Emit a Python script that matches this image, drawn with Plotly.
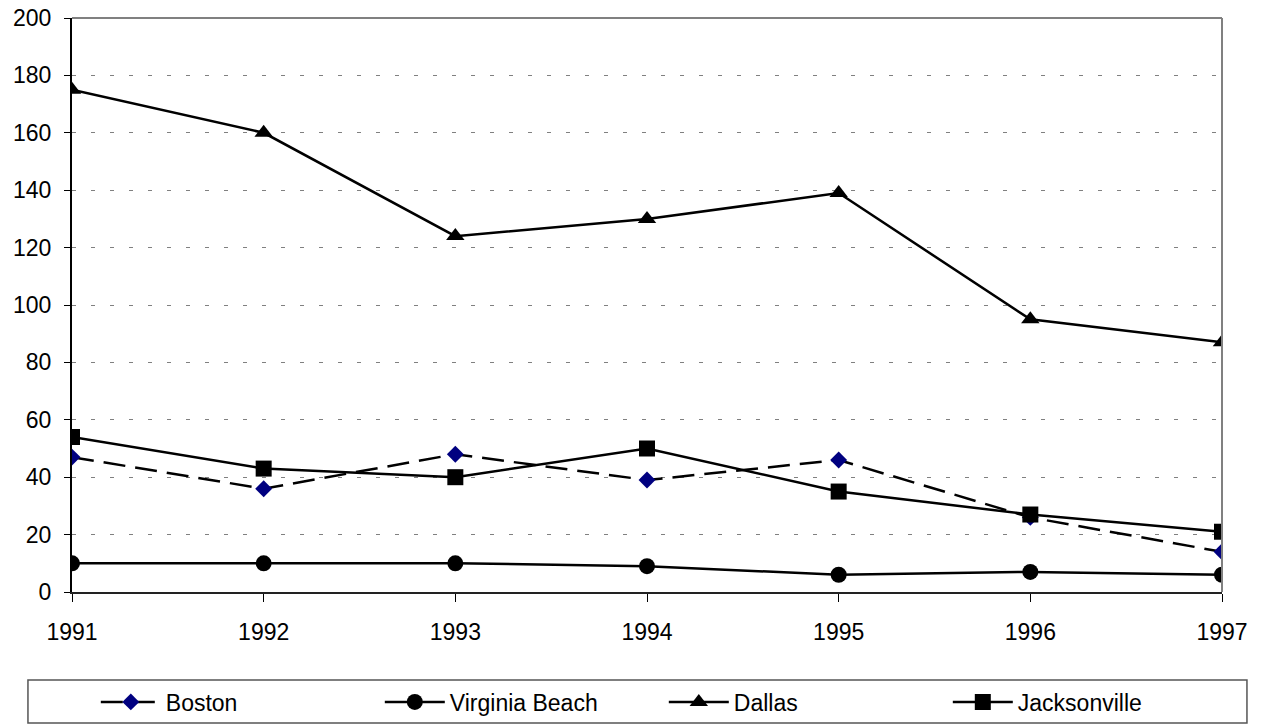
import plotly.graph_objects as go

years = [1991, 1992, 1993, 1994, 1995, 1996, 1997]
boston = [47, 36, 48, 39, 46, 26, 14]
virginia_beach = [10, 10, 10, 9, 6, 7, 6]
dallas = [175, 160, 124, 130, 139, 95, 87]
jacksonville = [54, 43, 40, 50, 35, 27, 21]
y_ticks = list(range(0, 201, 20))

fig = go.Figure()
fig.add_trace(go.Scatter(x=years, y=boston, name="Boston", mode="lines+markers",
                         line=dict(color="black", width=2.5, dash="22px,10px"),
                         marker=dict(symbol="diamond", color="#000080", size=13)))
fig.add_trace(go.Scatter(x=years, y=virginia_beach, name="Virginia Beach", mode="lines+markers",
                         line=dict(color="black", width=2.5),
                         marker=dict(symbol="circle", color="black", size=16)))
fig.add_trace(go.Scatter(x=years, y=dallas, name="Dallas", mode="lines+markers",
                         line=dict(color="black", width=2.5),
                         marker=dict(symbol="triangle-up", color="black", size=16)))
fig.add_trace(go.Scatter(x=years, y=jacksonville, name="Jacksonville", mode="lines+markers",
                         line=dict(color="black", width=2.5),
                         marker=dict(symbol="square", color="black", size=16)))

fig.update_layout(
    width=1267, height=726,
    margin=dict(l=72, r=45, t=18, b=134, autoexpand=False),
    paper_bgcolor="white", plot_bgcolor="white",
    font=dict(family="Liberation Sans, Arial, sans-serif", size=23, color="black"),
    xaxis=dict(range=[1991, 1997], tickvals=years, ticktext=[str(y) for y in years],
               showgrid=False, zeroline=False, showline=True, linecolor="#222222", linewidth=2,
               ticks="outside", ticklen=8, tickwidth=1, tickcolor="black",
               ticklabelstandoff=10, automargin=False, ticklabeloverflow="allow"),
    yaxis=dict(range=[0, 200], tickvals=y_ticks, showgrid=True, gridcolor="#808080",
               griddash="4px,15px", gridwidth=1, zeroline=False, showline=True, linecolor="black",
               linewidth=2, ticks="outside", ticklen=6, tickwidth=1, tickcolor="black",
               ticklabelstandoff=8, automargin=False, ticklabeloverflow="allow"),
    showlegend=True,
    legend=dict(orientation="h", x=0.0207, xanchor="left", y=0.0331, yanchor="middle",
                yref="container",
                borderwidth=0, bgcolor="rgba(0,0,0,0)",
                entrywidth=209, font=dict(size=23), itemwidth=60, traceorder="normal"),
)
fig.add_shape(type="line", xref="paper", yref="paper", x0=0, x1=1, y0=1, y1=1,
              line=dict(color="#808080", width=2))
fig.add_shape(type="line", xref="paper", yref="paper", x0=1, x1=1, y0=0, y1=1,
              line=dict(color="#808080", width=2))
fig.add_shape(type="rect", xref="paper", yref="paper", x0=-0.0383, x1=1.0217,
              y0=-0.1533, y1=-0.2282, line=dict(color="#555555", width=1.5),
              fillcolor="rgba(0,0,0,0)")
fig.write_html("out.html", config={"displayModeBar": False},
               post_script="document.body.style.margin='0';document.body.style.overflow='hidden';")
